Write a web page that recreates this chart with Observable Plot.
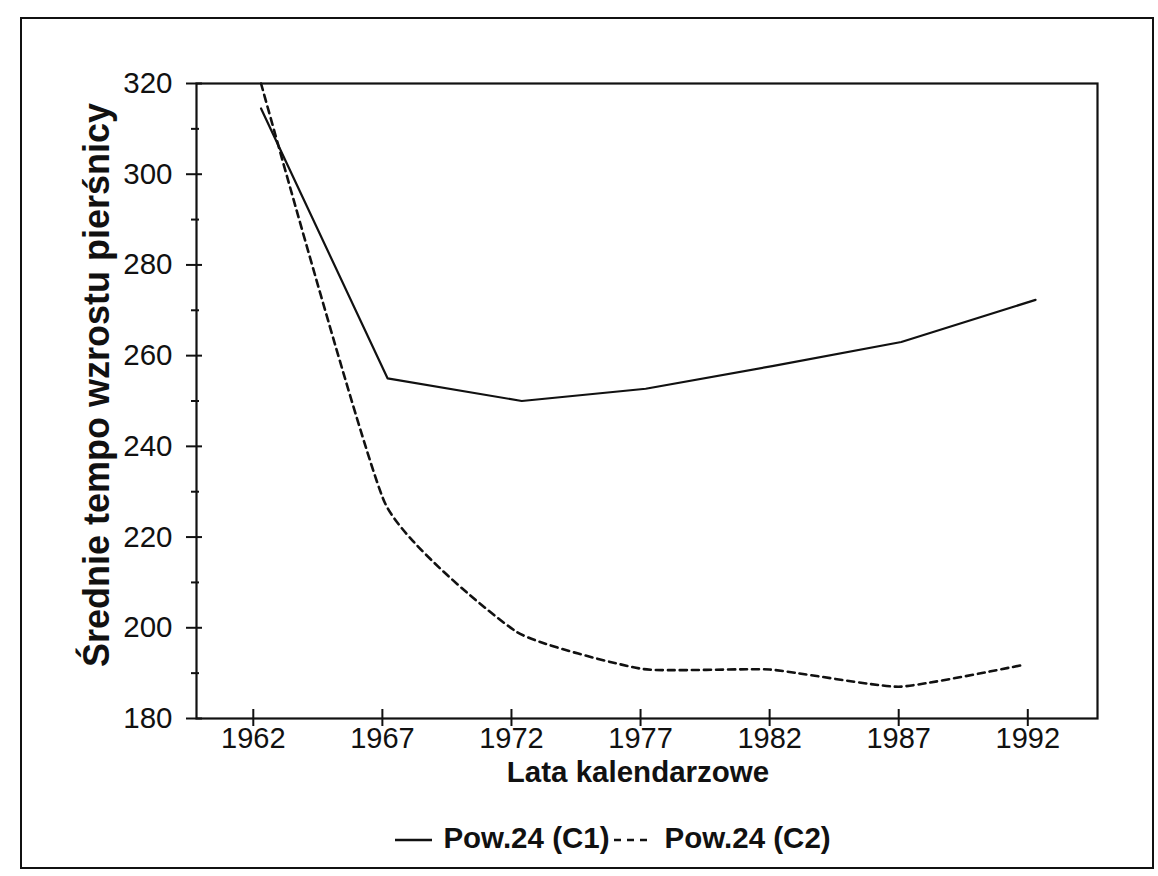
<!DOCTYPE html>
<html>
<head>
<meta charset="utf-8">
<script src="https://cdn.jsdelivr.net/npm/d3@7"></script>
<script src="https://cdn.jsdelivr.net/npm/@observablehq/plot@0.6"></script>
<style>
  html, body { margin: 0; padding: 0; background: #fff; }
  #wrap { position: relative; width: 1158px; height: 876px; overflow: hidden; font-family: "Liberation Sans", Arial, sans-serif; }
  #outer { position: absolute; left: 20px; top: 17px; width: 1134px; height: 852px; border: 2px solid #111; box-sizing: border-box; pointer-events: none; }
  #chart { position: absolute; left: 0; top: 0; }
  #legend { position: absolute; left: 34px; top: 821px; width: 1158px; text-align: center; font-weight: bold; font-size: 29.5px; color: #111; white-space: nowrap; }
  #legend svg { vertical-align: middle; }
  #legend .item { display: inline-block; }
</style>
</head>
<body>
<div id="wrap">
  <div id="chart"></div>
  <div id="legend"></div>
  <div id="outer"></div>
</div>
<script>
// ---- data ----
const seriesNames = ["Pow.24 (C1)", "Pow.24 (C2)"];
const yearsC1 = [1962.3, 1967.2, 1972.4, 1977.2, 1982.1, 1987.1, 1992.3];
const valuesC1 = [314.5, 255.0, 250.0, 252.7, 257.7, 263.0, 272.3];
const yearsC2 = [1962.3, 1967.1, 1972.2, 1977.1, 1982.0, 1987.0, 1991.8];
const valuesC2 = [320.0, 227.5, 199.1, 190.9, 190.8, 187.0, 191.8];
const xTickYears = [1962, 1967, 1972, 1977, 1982, 1987, 1992];
const yMajorTicks = [180, 200, 220, 240, 260, 280, 300, 320];
const yMinorTicks = [190, 210, 230, 250, 270, 290, 310];
const xTitle = "Lata kalendarzowe";
const yTitle = "Średnie tempo wzrostu pierśnicy";

const c1 = yearsC1.map((x, i) => ({x, y: valuesC1[i]}));
const c2 = yearsC2.map((x, i) => ({x, y: valuesC2[i]}));

const W = 1158, H = 805, mL = 196, mR = 61, mT = 83, mB = 87;
const plotW = W - mL - mR, plotH = H - mT - mB;
const ink = "#111";

const chart = Plot.plot({
  width: W, height: H,
  marginLeft: mL, marginRight: mR, marginTop: mT, marginBottom: mB,
  style: {background: "white", overflow: "visible", fontFamily: "'Liberation Sans', Arial, sans-serif", color: ink},
  x: {domain: [1959.8, 1994.7], axis: null},
  y: {domain: [180, 320], axis: null},
  marks: [
    Plot.line(c1, {x: "x", y: "y", stroke: ink, strokeWidth: 2.2}),
    Plot.line(c2, {x: "x", y: "y", stroke: ink, strokeWidth: 2.6, strokeDasharray: "7,5", curve: "cardinal", tension: 0.55}),
    Plot.frame({stroke: ink, strokeWidth: 2.2}),
    // crossing ticks
    Plot.tickY(yMajorTicks, {y: d => d, stroke: ink, strokeWidth: 2, insetLeft: -10, insetRight: plotW - 6}),
    Plot.tickY(yMinorTicks, {y: d => d, stroke: ink, strokeWidth: 2, insetLeft: -5, insetRight: plotW - 3}),
    Plot.tickX(xTickYears, {x: d => d, stroke: ink, strokeWidth: 2, insetTop: plotH - 9, insetBottom: -8}),
    // tick labels
    Plot.axisY({ticks: yMajorTicks, tickSize: 0, tickPadding: 24, fontSize: 29.5, tickFormat: d => String(d), label: null}),
    Plot.axisX({ticks: xTickYears, tickSize: 0, tickPadding: 9, fontSize: 29, tickFormat: d => String(d), label: null}),
    // axis titles
    Plot.text([xTitle], {frameAnchor: "bottom", dx: -9, dy: 63, fontSize: 29.5, fontWeight: "bold", fill: ink}),
    Plot.text([yTitle], {frameAnchor: "left", textAnchor: "middle", rotate: -90, dx: -99, dy: -16, fontSize: 36, fontWeight: "bold", fill: ink})
  ]
});
document.getElementById("chart").appendChild(chart);

// legend below the SVG
const legend = document.getElementById("legend");
const swatch = (dash) => {
  const ns = "http://www.w3.org/2000/svg";
  const s = document.createElementNS(ns, "svg");
  s.setAttribute("width", dash ? 33 : 37); s.setAttribute("height", 10);
  const l = document.createElementNS(ns, "line");
  l.setAttribute("x1", 0); l.setAttribute("x2", dash ? 33 : 37); l.setAttribute("y1", 5); l.setAttribute("y2", 5);
  l.setAttribute("stroke", ink); l.setAttribute("stroke-width", 2.4);
  if (dash) l.setAttribute("stroke-dasharray", dash);
  s.appendChild(l);
  return s;
};
seriesNames.forEach((name, i) => {
  const item = document.createElement("span");
  item.className = "item";
  item.style.marginLeft = i ? "4px" : "0";
  const sw = swatch(i ? "7,6" : null);
  sw.style.marginRight = i ? "18px" : "11px";
  item.appendChild(sw);
  item.appendChild(document.createTextNode(name));
  legend.appendChild(item);
});
</script>
</body>
</html>
